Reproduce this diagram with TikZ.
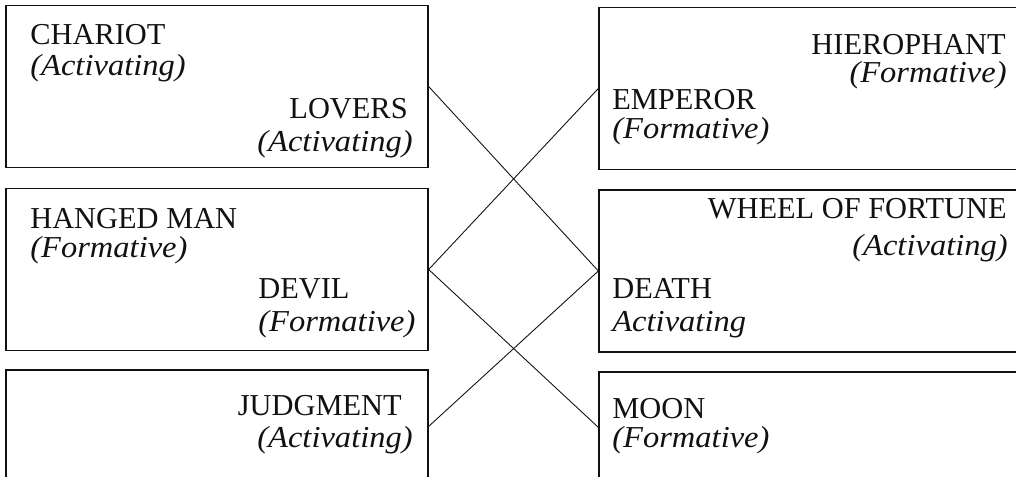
\documentclass[tikz,border=0pt]{standalone}
\usepackage{fontspec}
\setmainfont{Liberation Serif}[ItalicFeatures={FakeStretch=1.07}]
\usepackage{xcolor}
\definecolor{ink}{HTML}{111111}

\begin{document}
\begin{tikzpicture}[x=0.02cm, y=-0.02cm,
  card/.style={draw=ink, line width=0.8pt, minimum width=8.44cm,
               minimum height=3.24cm, inner sep=0pt},
  cardr/.style={card, minimum width=8.52cm},
  arcana/.style={font=\fontsize{17.3}{20}\selectfont, text=ink, inner sep=0pt},
  mode/.style={arcana, font=\fontsize{17.3}{20}\selectfont\itshape},
  link/.style={draw=ink, line width=0.5pt}]
\useasboundingbox (0,0) rectangle (1016,476);
\clip (0,0) rectangle (1016,476);

% left column
\node[card] (lb1) at (217,86.5) {};
\node[card] (lb2) at (217,269.5) {};
\node[card] (lb3) at (217,451) {};
\node[arcana, anchor=base west] (chariot) at (30,45) {CHARIOT};
\node[mode, anchor=base west] (chariotm) at (30,76) {(Activating)};
\node[arcana, anchor=base east] (lovers) at (408,119) {LOVERS};
\node[mode, anchor=base east] (loversm) at (413,152) {(Activating)};
\node[arcana, anchor=base west] (hanged) at (30,228) {HANGED MAN};
\node[mode, anchor=base west] (hangedm) at (30,257) {(Formative)};
\node[arcana, anchor=base west] (devil) at (258,298) {DEVIL};
\node[mode, anchor=base west] (devilm) at (258,331) {(Formative)};
\node[arcana, anchor=base east] (judgment) at (402,415) {JUDGMENT};
\node[mode, anchor=base east] (judgmentm) at (413,447) {(Activating)};

% right column
\node[cardr] (rb1) at (812,88.5) {};
\node[cardr] (rb2) at (812,271) {};
\node[cardr] (rb3) at (812,453) {};
\node[arcana, anchor=base east] (hiero) at (1006,55) {HIEROPHANT};
\node[mode, anchor=base east] (hierom) at (1007,83) {(Formative)};
\node[arcana, anchor=base west] (emperor) at (612,110) {EMPEROR};
\node[mode, anchor=base west] (emperorm) at (612,139) {(Formative)};
\node[arcana, anchor=base east] (wheel) at (1007,218) {WHEEL OF FORTUNE};
\node[mode, anchor=base east] (wheelm) at (1008,255) {(Activating)};
\node[arcana, anchor=base west] (death) at (612,298) {DEATH};
\node[mode, anchor=base west] (deathm) at (612,331) {Activating};
\node[arcana, anchor=base west] (moon) at (612,418) {MOON};
\node[mode, anchor=base west] (moonm) at (612,447) {(Formative)};

% crossings
\coordinate (judgmentpt) at (428,427);
\coordinate (moonpt) at (599,428);
\draw[link] (lb1.east) -- (rb2.west);
\draw[link] (rb1.west) -- (lb2.east);
\draw[link] (lb2.east) -- (moonpt);
\draw[link] (judgmentpt) -- (rb2.west);

\end{tikzpicture}
\end{document}
